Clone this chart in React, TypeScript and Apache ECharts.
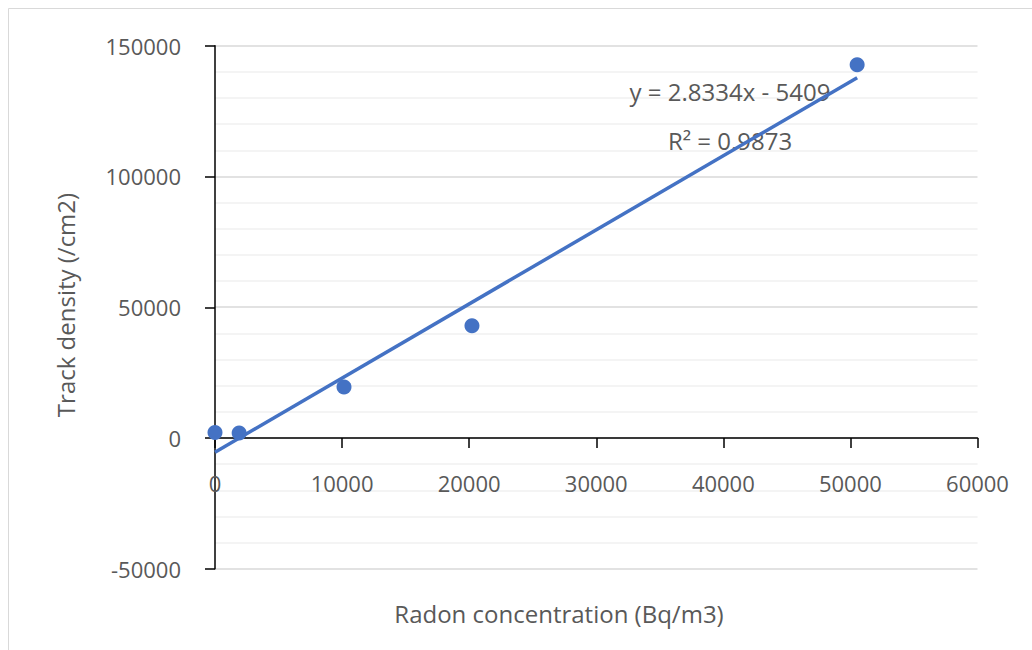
import React, { useEffect, useRef } from "react";
import * as echarts from "echarts";

const radonConcentration = [0, 1900, 10150, 20220, 50530];
const trackDensity = [2100, 1900, 19500, 42900, 142700];
const trendSlope = 2.8334;
const trendIntercept = -5409;
const trendEquation = "y = 2.8334x - 5409";
const trendR2 = "R² = 0.9873";
const xTitle = "Radon concentration (Bq/m3)";
const yTitle = "Track density (/cm2)";

const FONT = "'Open Sans', 'Noto Sans', sans-serif";
const GRAY = "#595959";
const BLUE = "#4472C4";

export default function App() {
  const ref = useRef<HTMLDivElement>(null);
  useEffect(() => {
    document.body.style.overflow = "hidden";
    const chart = echarts.init(ref.current!, null, { renderer: "svg" });
    const points = radonConcentration.map((x, i) => [x, trackDensity[i]]);
    const xStart = Math.min(...radonConcentration);
    const xEnd = Math.max(...radonConcentration);
    const trend = [
      [xStart, trendSlope * xStart + trendIntercept],
      [xEnd, trendSlope * xEnd + trendIntercept],
    ];
    chart.setOption({
      animation: false,
      backgroundColor: "#ffffff",
      grid: { left: 215, right: 54.5, top: 45.7, bottom: 81.2, containLabel: false },
      xAxis: {
        type: "value",
        min: 0,
        max: 60000,
        interval: 10000,
        axisLine: { show: true, onZero: true, lineStyle: { color: "#000000", width: 1.5 } },
        axisTick: { show: true, inside: false, length: 10, lineStyle: { color: "#000000", width: 1.5 } },
        axisLabel: {
          color: GRAY,
          fontFamily: FONT,
          fontSize: 22,
          margin: -97,
          formatter: (v: number) => String(v),
        },
        splitLine: { show: false },
      },
      yAxis: {
        type: "value",
        min: -50000,
        max: 150000,
        interval: 50000,
        minorTick: { show: false, splitNumber: 5 },
        axisLine: { show: true, onZero: true, lineStyle: { color: "#000000", width: 1.5 } },
        axisTick: { show: true, inside: false, length: 10, lineStyle: { color: "#000000", width: 1.5 } },
        axisLabel: {
          color: GRAY,
          fontFamily: FONT,
          fontSize: 22,
          margin: 34,
          formatter: (v: number) => String(v),
        },
        splitLine: { show: true, lineStyle: { color: "#d9d9d9", width: 1.5 } },
        minorSplitLine: { show: true, lineStyle: { color: "#f0f0f0", width: 1.5 } },
      },
      series: [
        {
          type: "line",
          data: trend,
          symbol: "none",
          lineStyle: { color: BLUE, width: 3.5 },
          z: 2,
        },
        {
          type: "scatter",
          data: points,
          symbol: "circle",
          symbolSize: 15,
          itemStyle: { color: BLUE, opacity: 1 },
          z: 3,
        },
      ],
      graphic: [
        {
          type: "rect",
          shape: { x: 8.5, y: 8.5, width: 1100, height: 700 },
          style: { fill: "none", stroke: "#d9d9d9", lineWidth: 1 },
          z: -10,
          silent: true,
        },
        {
          type: "text",
          x: 65,
          y: 305,
          rotation: Math.PI / 2,
          style: {
            text: yTitle,
            fill: GRAY,
            font: `24px ${FONT}`,
            textAlign: "center",
            textVerticalAlign: "middle",
          },
        },
        {
          type: "text",
          x: 559,
          y: 613,
          style: {
            text: xTitle,
            fill: GRAY,
            font: `24px ${FONT}`,
            textAlign: "center",
            textVerticalAlign: "middle",
          },
        },
        {
          type: "text",
          x: 730,
          y: 91,
          style: {
            text: trendEquation,
            fill: GRAY,
            font: `24px ${FONT}`,
            textAlign: "center",
            textVerticalAlign: "middle",
          },
          z: 1,
        },
        {
          type: "text",
          x: 730,
          y: 140,
          style: {
            text: trendR2,
            fill: GRAY,
            font: `24px ${FONT}`,
            textAlign: "center",
            textVerticalAlign: "middle",
          },
          z: 1,
        },
      ],
    });
    return () => chart.dispose();
  }, []);
  return (
    <div
      ref={ref}
      style={{ position: "fixed", left: 0, top: 0, width: 1032, height: 650 }}
    />
  );
}
